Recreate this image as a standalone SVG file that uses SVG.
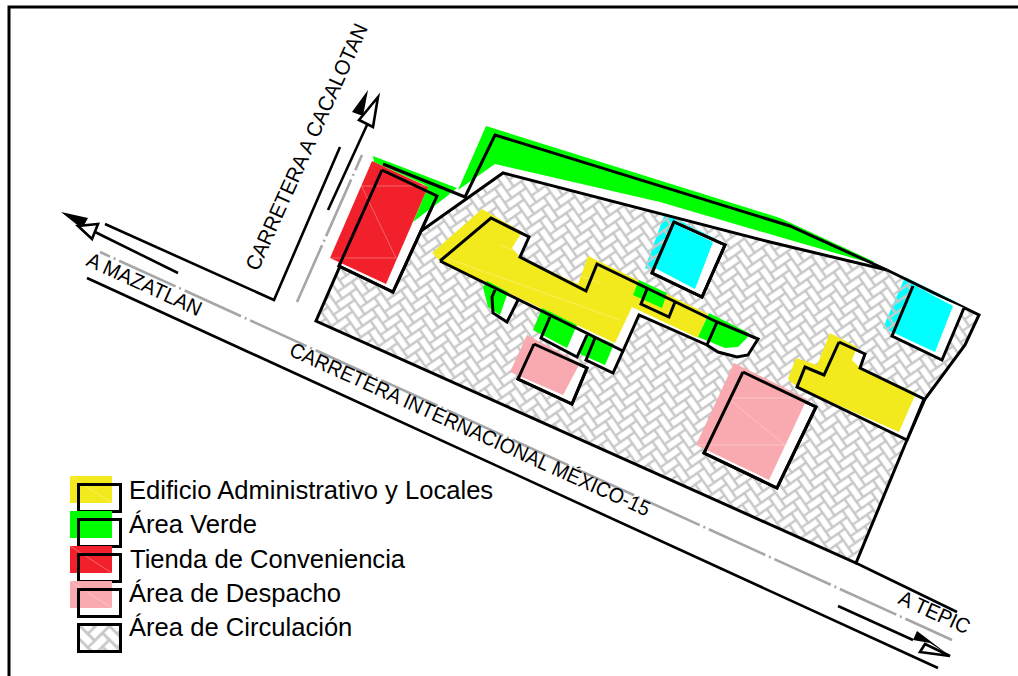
<svg xmlns="http://www.w3.org/2000/svg" width="1018" height="676" viewBox="0 0 1018 676">
<style>
text{font-family:"Liberation Sans",Arial,sans-serif;fill:#000}
.o{fill:none;stroke:#000;stroke-width:3;stroke-linejoin:miter}
.w{fill:#fff;stroke:#000;stroke-width:3}
.r{fill:none;stroke:#000;stroke-width:2.6}
.g{fill:none;stroke:#a6a6a6;stroke-width:2.6;stroke-dasharray:62 4 2 4}
.y{fill:#f2ea1d}.v{fill:#00ff00}.t{fill:#f1202a}.p{fill:#f8aab0}.c{fill:#00ffff}
.f{stroke:#fff;stroke-opacity:.3;stroke-width:1;fill:none}
.l{font-size:25.6px}
.s{font-size:21px}
</style>
<defs>
<g id="hb"><path d="M0 0H16V7.500H0ZM16-8.500H23.500V7.500H16Z" fill="none" stroke="#c8c8c8" stroke-width="2"/></g>
<g id="hbrow"><use href="#hb" x="-37.500" y="-37.500"/><use href="#hb" x="-30" y="-30"/><use href="#hb" x="-22.500" y="-22.500"/><use href="#hb" x="-15" y="-15"/><use href="#hb" x="-7.500" y="-7.500"/><use href="#hb"/><use href="#hb" x="7.500" y="7.500"/><use href="#hb" x="15" y="15"/><use href="#hb" x="22.500" y="22.500"/><use href="#hb" x="30" y="30"/><use href="#hb" x="37.500" y="37.500"/></g>
<g id="hbtile" transform="rotate(45)"><use href="#hbrow"/><use href="#hbrow" x="-16" y="16"/><use href="#hbrow" x="16" y="-16"/><use href="#hbrow" x="-32" y="32"/><use href="#hbrow" x="32" y="-32"/></g>
<pattern id="hatch" patternUnits="userSpaceOnUse" width="22.627" height="10.607" patternTransform="translate(3 1) rotate(10) scale(1.1)">
<use href="#hbtile"/>
</pattern>
<pattern id="hatchL" patternUnits="userSpaceOnUse" width="22.627" height="10.607" patternTransform="translate(80 626) scale(1.3)">
<use href="#hbtile"/>
</pattern>
</defs>
<rect width="1018" height="676" fill="#fff"/>
<path d="M9 676V7H1018" fill="none" stroke="#000" stroke-width="3"/>

<g id="cyan-under">
<polygon class="c" points="665,213 714,238 695,289 645,268"/>
<polygon class="c" points="905,277 956,302 935,352 883,328"/>
</g>
<g id="area-circulacion">
<polygon fill="url(#hatch)" points="316,321 339,266 393,292 421,231 503,173 770,242 887,270 979,315 965,345 925,399 907,440 856,563"/>
<path class="o" d="M421 231L503 173L770 242L887 270"/>
<path class="o" d="M382 170L316 321L856 563L907 440L925 399L965 345L979 315L887 270"/>
</g>
<g id="area-verde-norte">
<polygon class="v" points="486,126 780,218 875,262 863,261 790,240 660,202 495,164 458,190"/>
<polygon class="v" points="373,156 457,188 447,196 413,222 425,185 374,162"/>
<path class="o" d="M383 164L465 197L495 135L790 226L887 270"/>
</g>
<g id="tienda">
<polygon class="w" points="382,170 437,196 393,292 339,266"/>
<polygon class="v" points="428,187 447,196 413,222"/>
<polygon class="t" points="372,161 428,187 386,284 330,258"/>
<path class="f" d="M330 258H396M361 185L396 258M362 186H428"/>
<path class="o" d="M382 170L437 196L393 292L339 266L382 170"/>
</g>
<g id="edificio-1">
<polygon fill="#fff" points="440,261 491,218 529,237 520,257 586,291 597,264 717,322 758,339 748,355 737,357 718,352 707,345 639,315 623,351 440,261"/>
<polygon class="y" points="482,209 522,232 512,248 520,257 578,284 588,256 708,314 698,338 632,307 615,343 440,261 432,253"/>
<path class="f" d="M432 253L620 320M500 245L600 283"/>
</g>
<g id="area-verde-locales">
<polygon fill="#fff" points="495,290 492,297 493,313 507,322 518,300"/>
<polygon class="v" points="487,281 508,292 500,315 488,307 483,287"/>
<polygon fill="#fff" points="550,317 541,338 577,357 587,335"/>
<polygon class="v" points="542,308 577,325 567,348 533,330"/>
<polygon fill="#fff" points="595,338 586,360 613,373 623,351"/>
<polygon class="v" points="587,333 614,344 605,365 580,354"/>
<polygon class="v" points="639,280 667,293 662,308 633,295"/>
<polygon class="v" points="709,313 749,333 747,338 738,347 725,348 698,337"/>
<path class="o" d="M495 290L492 297L493 313L507 322L518 300"/>
<path class="o" d="M550 317L541 338L577 357L587 335"/>
<path class="o" d="M595 338L586 360L613 373L623 351"/>
<path class="o" d="M647 289L641 304L669 317L675 302"/>
<path class="o" d="M717 322L707 345"/>
</g>
<g id="edificio-1-contorno">
<path class="o" d="M440 261L491 218L529 237L520 257L586 291L597 264L717 322L758 339L748 355L737 357L718 352L707 345L639 315L623 351L440 261"/>
</g>
<g id="despacho-1">
<polygon class="w" points="534,344 518,379 572,404 587,368"/>
<polygon class="p" points="527,335 580,363 563,395 510,372"/>
<path class="o" d="M534 344L518 379L572 404L587 368L534 344"/>
</g>
<g id="despacho-2">
<polygon class="w" points="743,372 816,407 777,488 704,453"/>
<polygon class="p" points="734,363 807,399 769,480 696,445"/>
<path class="f" d="M730 398H806M730 400L785 445M697 445H785"/>
<path class="o" d="M743 372L816 407L777 488L704 453L743 372"/>
</g>
<g id="edificio-2">
<polygon fill="#fff" points="839,342 865,354 860,368 924,399 907,440 797,387 805,367 824,375"/>
<polygon class="y" points="830,333 857,347 852,360 860,368 916,393 899,432 797,387 788,379 796,358 817,365"/>
<path class="o" d="M839 342L865 354L860 368L924 399L907 440L797 387L805 367L824 375L839 342"/>
</g>
<g id="cyan-1">
<polygon class="w" points="674,222 725,245 702,297 652,273"/>
<polygon class="c" points="673,223 713,242 695,289 655,268"/>
<path class="o" d="M674 222L725 245L702 297L652 273L674 222"/>
</g>
<g id="cyan-2">
<polygon fill="#fff" points="913,286 964,308 942,360 892,336"/>
<polygon class="c" points="913,285 953,306 935,352 894,333"/>
<path class="o" d="M964 308L942 360L892 336L913 286"/>
</g>

<g id="conectores">
<path class="g" d="M100 252L952 640" stroke-dashoffset="-21"/>
<path class="g" d="M297 302L362 155"/>
<path class="r" d="M87 278L938 668"/>
<path class="r" d="M856 563L957 612"/>
<path class="r" d="M95 232L178 273"/>
<path class="r" d="M105 224L274 300L340 147"/>
<path class="r" d="M328 210L367 125"/>
<path class="r" d="M838 606L913 640"/>
<polygon points="61,212 88,218 83,227 91,236" fill="#000"/>
<polygon points="98,224 92,239 78,226" fill="#fff" stroke="#000" stroke-width="2.6"/>
<polygon points="368,90 352,112 363,116" fill="#000"/>
<polygon points="378,97 359,120 373,127" fill="#fff" stroke="#000" stroke-width="2.6"/>
<polygon points="917,631 913,640 930,643 950,656" fill="#000"/>
<polygon points="925,644 920,652 950,656" fill="#fff" stroke="#000" stroke-width="2.6"/>
</g>

<g id="rotulos">
<text class="s" transform="translate(85 265) rotate(24.500)" textLength="124" lengthAdjust="spacingAndGlyphs">A MAZATLAN</text>
<text class="s" transform="translate(258 272) rotate(-65.700)" textLength="268" lengthAdjust="spacingAndGlyphs">CARRETERA A CACALOTAN</text>
<text class="s" transform="translate(288 355) rotate(24.300)" textLength="393" lengthAdjust="spacingAndGlyphs">CARRETERA INTERNACIONAL MÉXICO-15</text>
<text class="s" transform="translate(897 603) rotate(24.500)" textLength="76" lengthAdjust="spacingAndGlyphs">A TEPIC</text>
</g>

<g id="leyenda">
<g id="ley-edificio"><rect class="y" x="70" y="476" width="42" height="27"/><path class="f" d="M70 476L112 503"/><rect class="o" x="78.500" y="484.500" width="42" height="27"/><text class="l" x="129" y="499">Edificio Administrativo y Locales</text></g>
<g id="ley-verde"><rect class="v" x="70" y="511" width="42" height="27"/><rect class="o" x="78.500" y="519.500" width="42" height="27"/><text class="l" x="129" y="533">Área Verde</text></g>
<g id="ley-tienda"><rect class="t" x="70" y="546" width="42" height="27"/><path class="f" d="M70 546L112 573"/><rect class="o" x="78.500" y="554.500" width="42" height="27"/><text class="l" x="130" y="568">Tienda de Conveniencia</text></g>
<g id="ley-despacho"><rect class="p" x="70" y="581" width="42" height="27"/><path class="f" d="M70 581L112 608"/><rect class="o" x="78.500" y="589.500" width="42" height="27"/><text class="l" x="129" y="602">Área de Despacho</text></g>
<g id="ley-circulacion"><rect fill="url(#hatchL)" x="78.500" y="624.500" width="42" height="27"/><rect class="o" x="78.500" y="624.500" width="42" height="27"/><text class="l" x="129" y="636">Área de Circulación</text></g>
</g>
</svg>
